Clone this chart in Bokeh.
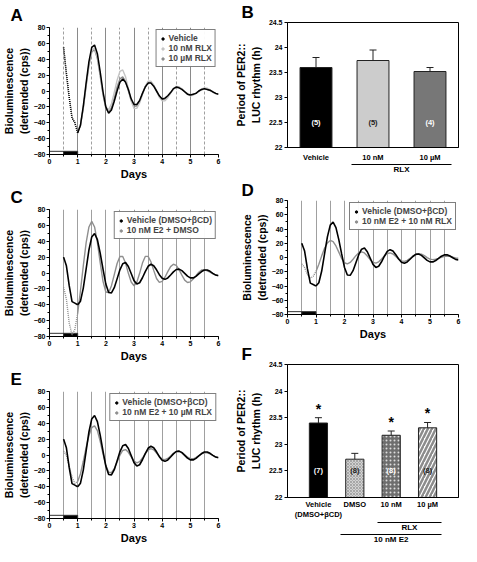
from bokeh.plotting import figure
from bokeh.layouts import row, column
from bokeh.models import (Range1d, SingleIntervalTicker, FixedTicker, Grid,
                          Legend, LegendItem, Whisker, TeeHead, ColumnDataSource,
                          NumeralTickFormatter, LinearAxis)
from bokeh.core.properties import value
from bokeh.embed import file_html
from bokeh.resources import INLINE

FONT = "Liberation Sans"
NAN = float("nan")

# ---------------- data ----------------
days = [0.5, 0.6, 0.7, 0.8, 0.9, 1.0,
        1.1, 1.2, 1.3, 1.4, 1.5, 1.6, 1.7, 1.8, 1.9, 2.0,
        2.1, 2.2, 2.3, 2.4, 2.5, 2.6, 2.7, 2.8, 2.9, 3.0,
        3.1, 3.2, 3.3, 3.4, 3.5, 3.6, 3.7, 3.8, 3.9, 4.0,
        4.1, 4.2, 4.3, 4.4, 4.5, 4.6, 4.7, 4.8, 4.9, 5.0,
        5.1, 5.2, 5.3, 5.4, 5.5, 5.6, 5.7, 5.8, 5.9, 6.0]

# Panel A
a_vehicle = [55, 22, -8, -34, -40, -53,
             -43, -19, 10, 37, 55, 58, 47, 24, -1, -20,
             -28, -24, -13, 0, 11, 15, 11, 2, -10, -17,
             -17, -12, -3, 5, 10, 10, 6, 0, -6, -10,
             -9, -6, -2, 3, 5, 4, 2, -1, -4, -5,
             -4, -3, 0, 2, 3, 2, 1, -1, -3, -4]
a_rlx_10nM = [55, 22, -8, -34, -40, -52,
              -43, -21, 7, 34, 51, 54, 42.5, 20.5, -3.5, -20,
              -23.5, -16, -1.7, 13.7, 24.6, 26.5, 18, 3, -12.7, -22,
              -21.8, -15, -4.4, 5.8, 12.2, 12.4, 7.5, -0.4, -8, -12.5,
              -12.3, -8.4, -2.6, 2.9, 5.8, 5.4, 2.7, -1, -4.3, -6,
              -5.4, -3.1, 0, 2.7, 4, 3.5, 1.4, -1, -3.2, -4]
a_rlx_10uM = [55, 22, -8, -34, -40, -52,
              -43, -21.5, 6, 32, 49, 52.3, 40.8, 19, -4.6, -22,
              -26.8, -21, -8.7, 5, 15.3, 17.8, 12, 0.3, -12, -19.2,
              -19, -12.8, -3.5, 5.6, 11.3, 11.4, 7.1, 0.1, -6.6, -10.5,
              -10.4, -7.2, -2.2, 2.4, 4.8, 4.5, 2.2, -0.8, -3.6, -5,
              -4.5, -2.8, -0.5, 1.6, 2.5, 2.1, 0.6, -1.5, -3.3, -4]

# Panels C, D, E
vehicle_cd = [20, 9, -16, -36, -38, -40,
              -35.5, -19, 5, 29, 45.5, 49.8, 42, 25, 5, -14,
              -24.5, -25, -18.5, -7.4, 4, 11.7, 13.2, 8.1, -0.7, -9.6,
              -13.9, -12.3, -6, 1.8, 8.5, 11, 9.1, 4, -2.1, -6.7,
              -8, -6.2, -2.5, 1.4, 4.4, 4.9, 3, -0.4, -4, -6.2,
              -6.2, -4.3, -1.2, 1.8, 3.7, 3.8, 2.1, -0.4, -2.6, -3.5]
e2_dmso = [-18, -33, -63, -78, -71, -51,
           -22, 9, 38, 58, 65, 58, 38.6, 13, -10.5, -24,
           -24.8, -16, -2, 12, 20.8, 20.9, 12.5, -0.4, -11.4, -16,
           -11.6, -0.4, 12.5, 20.9, 21, 14.2, 3.3, -6.9, -11.8, -10.6,
           -5.3, 1.7, 8, 11, 9.6, 4.3, -2.7, -9, -12, -11.1,
           -7.7, -3.4, 1, 3.7, 3.9, 2.8, 1, -1, -2.4, -3]
e2_rlx_10nM = [-9, -14, -24, -29, -26.5, -19.5,
               -9.4, 2.3, 13, 20.4, 24, 22.3, 16.2, 7.5, -1.4, -7.4,
               -9, -6.9, -2.5, 2.6, 6.5, 8, 6.4, 2.1, -3, -6.9,
               -8, -6, -2.1, 2.3, 5.6, 6.4, 4.9, 1.6, -2, -4.8,
               -5.5, -4.1, -1.3, 2, 4.5, 5.5, 4.7, 2.6, -0.1, -2.2,
               -3, -2.5, -1.3, 0.3, 1.5, 2, 1.6, 0.5, -0.6, -1]
e2_rlx_10uM = [5, -0.4, -14, -28, -35.8, -33.4,
               -23.6, -7.9, 9.3, 24.6, 34.4, 36.8, 30.8, 17.2, 1.6, -13.4,
               -21.8, -22.3, -17.3, -8.9, -0.2, 5.7, 6.8, 3.4, -2.4, -7.8,
               -10, -8.3, -3.8, 1.8, 6.3, 8, 6.5, 2.5, -1.9, -5.3,
               -5.9, -4.3, -1.2, 2.1, 4.5, 4.9, 3.3, 0.3, -2.8, -4.7,
               -4.8, -3.4, -1, 1.4, 2.8, 2.8, 1.5, -0.5, -2.3, -3]

# light / dark bar
lightdark_start = [0.0, 0.5]
lightdark_end = [0.5, 1.0]
lightdark_fill = ["white", "black"]
lightdark_bottom = -80
lightdark_top = -76

half_day_lines = [0.5, 1.0, 1.5, 2.0, 2.5, 3.0, 3.5, 4.0, 4.5, 5.0, 5.5]
whole_day_lines = [1, 2, 3, 4, 5]
mid_day_lines = [0.5, 1.5, 2.5, 3.5, 4.5, 5.5]

# Panel B
b_categories = ["Vehicle", "10 nM", "10 µM"]
b_sublabels = ["", "", ""]
b_period = [23.60, 23.74, 23.52]
b_sem = [0.20, 0.21, 0.08]
b_n = ["(5)", "(5)", "(4)"]
b_significant = [False, False, False]
b_groups = [("RLX", ["10 nM", "10 µM"])]

# Panel F
f_categories = ["Vehicle", "DMSO", "10 nM", "10 µM"]
f_sublabels = ["(DMSO+βCD)", "", "", ""]
f_period = [23.40, 22.72, 23.17, 23.31]
f_sem = [0.10, 0.11, 0.08, 0.10]
f_n = ["(7)", "(8)", "(8)", "(8)"]
f_significant = [True, False, True, True]
f_groups = [("RLX", ["10 nM", "10 µM"]), ("10 nM E2", ["DMSO", "10 nM", "10 µM"])]

period_ticks = [22, 22.5, 23, 23.5, 24, 24.5]

# ---------------- styles ----------------
GRAY_LIGHT = "#c4c4c4"
GRAY_MID = "#8c8c8c"
GRAY_LINE = "#8f8f8f"


def style_axis(ax, label_size):
    ax.axis_line_color = "black"
    ax.major_tick_line_color = "black"
    ax.minor_tick_line_color = "black"
    ax.major_tick_in = 0
    ax.major_tick_out = 3
    ax.minor_tick_in = 0
    ax.minor_tick_out = 2
    ax.major_label_text_font = FONT
    ax.major_label_text_font_style = "bold"
    ax.major_label_text_font_size = "7px"
    ax.major_label_text_color = "black"
    ax.major_label_standoff = 1
    ax.axis_label_text_font = FONT
    ax.axis_label_text_font_style = "bold"
    ax.axis_label_text_font_size = label_size
    ax.axis_label_text_color = "black"
    ax.axis_label_standoff = 1


def set_letter(p, letter, offset, standoff):
    p.title.text = letter
    p.title.align = "left"
    p.title.offset = offset
    p.title.standoff = standoff
    p.title.text_font = FONT
    p.title.text_font_style = "bold"
    p.title.text_font_size = "17px"
    p.title.text_color = "black"


def legend_for(p, entries):
    items = []
    for label, color in entries:
        r = p.scatter(x=[NAN], y=[NAN], size=4, fill_color=color, line_color=color)
        items.append(LegendItem(label=label, renderers=[r]))
    leg = Legend(items=items, location="top_right")
    leg.border_line_color = "black"
    leg.border_line_width = 1
    leg.label_text_font = FONT
    leg.label_text_font_style = "bold"
    leg.label_text_font_size = "8.5px"
    leg.label_height = 9
    leg.glyph_height = 9
    leg.glyph_width = 6
    leg.label_standoff = 3
    leg.spacing = 0
    leg.padding = 3
    leg.margin = 2
    p.add_layout(leg)


def trace_panel(letter, w, h, bl, br, bt, bb, letter_off, series, legend_entries, dashed_half):
    p = figure(width=w, height=h, x_range=Range1d(0, 6), y_range=Range1d(-80, 80),
               output_backend="svg", toolbar_location=None,
               min_border_left=bl, min_border_right=br, min_border_top=bt, min_border_bottom=bb)
    set_letter(p, letter, letter_off[0], letter_off[1])
    p.outline_line_color = None
    p.xaxis.ticker = SingleIntervalTicker(interval=1, num_minor_ticks=2)
    p.yaxis.ticker = SingleIntervalTicker(interval=20, num_minor_ticks=2)
    p.xaxis.axis_label = "Days"
    p.yaxis.axis_label = "Bioluminescence\n(detrended (cps))"
    style_axis(p.xaxis[0], "11px")
    style_axis(p.yaxis[0], "10.5px")
    p.ygrid.grid_line_color = None
    if dashed_half:
        p.xgrid.ticker = FixedTicker(ticks=whole_day_lines)
        p.xgrid.grid_line_color = "#8a8a8a"
        g = Grid(dimension=0, ticker=FixedTicker(ticks=mid_day_lines),
                 grid_line_color="#a0a0a0", grid_line_dash="3 2")
        p.center.append(g)
    else:
        p.xgrid.ticker = FixedTicker(ticks=half_day_lines)
        p.xgrid.grid_line_color = "#a0a0a0"

    p.quad(left=lightdark_start, right=lightdark_end, bottom=lightdark_bottom,
           top=lightdark_top, fill_color=lightdark_fill, line_color="#333333", line_width=1)

    for vals, color, lw, dotted in series:
        p.line(days[:6], vals[:6], line_color=color, line_width=lw,
               line_dash="1 1" if dotted else "solid")
        p.line(days[5:], vals[5:], line_color=color, line_width=lw)

    legend_for(p, legend_entries)
    return p


def flat_axis(ax):
    ax.major_tick_in = 0
    ax.major_tick_out = 0
    ax.minor_tick_in = 0
    ax.minor_tick_out = 0
    ax.major_tick_line_color = None
    ax.minor_tick_line_color = None
    ax.axis_label = None
    ax.axis_label_standoff = 0
    ax.axis_label_text_font_size = "0px"


def bar_panel(letter, w, h, bl, br, bt, bb, letter_off, cats, sublabels, vals, errs, ns, sig,
              fills, hatches, hatch_colors, hatch_scales, hatch_weights, n_colors,
              bar_width, pad, groups, tick_standoff):
    n = len(cats)
    xs = [i + 0.5 for i in range(n)]          # slot centres of the categories
    pos = dict(zip(cats, xs))
    upper = [v + e for v, e in zip(vals, errs)]
    src = ColumnDataSource(dict(x=xs, val=vals, upper=upper, n=ns, fill=fills,
                                hatch=hatches, hcolor=hatch_colors, hscale=hatch_scales,
                                hweight=hatch_weights, ncolor=n_colors))
    p = figure(width=w, height=h, x_range=Range1d(-pad, n + pad),
               y_range=Range1d(22, 24.5), output_backend="svg", toolbar_location=None,
               min_border_left=bl, min_border_right=br, min_border_top=bt, min_border_bottom=bb)
    set_letter(p, letter, letter_off[0], letter_off[1])

    p.outline_line_color = "black"
    p.outline_line_width = 1
    p.xgrid.grid_line_color = None
    p.ygrid.grid_line_color = None
    p.yaxis.ticker = FixedTicker(ticks=period_ticks)
    p.yaxis.formatter = NumeralTickFormatter(format="0.[0]")
    p.yaxis.axis_label = "Period of PER2::\nLUC rhythm (h)"
    style_axis(p.xaxis[0], "10px")
    style_axis(p.yaxis[0], "10.5px")
    p.xaxis.ticker = FixedTicker(ticks=xs)
    p.xaxis.major_label_overrides = {x: (c + "\n" + s if s else c)
                                     for x, c, s in zip(xs, cats, sublabels)}
    flat_axis(p.xaxis[0])
    p.xaxis.major_label_standoff = tick_standoff
    p.xaxis.major_label_text_font_size = "7.5px"
    p.yaxis.major_label_standoff = 2
    p.yaxis.axis_label_standoff = 4
    p.yaxis.minor_tick_line_color = None
    p.yaxis.minor_tick_out = 0

    p.vbar(x="x", top="val", bottom=22, width=bar_width, source=src, fill_color="fill",
           line_color="#222222", line_width=1, hatch_pattern="hatch", hatch_color="hcolor",
           hatch_scale="hscale", hatch_weight="hweight")
    p.add_layout(Whisker(base="x", lower="val", upper="upper", source=src,
                         dimension="height", line_color="#222222", line_width=1,
                         upper_head=TeeHead(size=7, line_color="#222222", line_width=1),
                         lower_head=None, level="overlay"))
    p.text(x="x", y=22.5, text="n", text_color="ncolor", source=src,
           text_font=value(FONT), text_font_style="bold", text_font_size="7.5px",
           text_align="center", text_baseline="middle")
    star_src = ColumnDataSource(dict(
        x=[x for x, s in zip(xs, sig) if s],
        y=[u + 0.02 for u, s in zip(upper, sig) if s],
        star=["*" for s in sig if s]))
    p.text(x="x", y="y", text="star", source=star_src, text_font=value(FONT),
           text_font_style="bold", text_font_size="14px", text_align="center",
           text_baseline="bottom", text_color="black")

    # group brackets: extra axes whose line spans the grouped categories
    for label, members in groups:
        mx = [pos[m] for m in members]
        xa = min(mx) - 0.38
        xb = max(mx) + 0.38
        mid = round((xa + xb) / 2, 6)
        ax = LinearAxis(bounds=(xa, xb), ticker=FixedTicker(ticks=[mid]),
                        major_label_overrides={mid: label})
        flat_axis(ax)
        ax.axis_line_color = "black"
        ax.axis_line_width = 1
        ax.major_label_standoff = 0
        ax.major_label_text_font = FONT
        ax.major_label_text_font_style = "bold"
        ax.major_label_text_font_size = "8px"
        ax.major_label_text_color = "black"
        p.add_layout(ax, "below")
    return p


# ---------------- panels ----------------
pA = trace_panel("A", 232, 182, 40, 14, 24, 26, (-39, 6),
                 [(a_rlx_10uM, GRAY_MID, 1.4, True),
                  (a_rlx_10nM, GRAY_LIGHT, 1.4, True),
                  (a_vehicle, "black", 1.5, True)],
                 [("Vehicle", "black"), ("10 nM RLX", GRAY_LIGHT), ("10 µM RLX", GRAY_MID)],
                 True)

pC = trace_panel("C", 232, 182, 40, 14, 24, 26, (-39, 6),
                 [(e2_dmso, GRAY_LINE, 1.4, True),
                  (vehicle_cd, "black", 1.6, False)],
                 [("Vehicle (DMSO+βCD)", "black"), ("10 nM E2 + DMSO", GRAY_LINE)],
                 False)

pE = trace_panel("E", 232, 182, 40, 14, 24, 26, (-39, 6),
                 [(e2_rlx_10uM, GRAY_LINE, 1.4, True),
                  (vehicle_cd, "black", 1.6, False)],
                 [("Vehicle (DMSO+βCD)", "black"), ("10 nM E2 + 10 µM RLX", GRAY_LINE)],
                 False)

pB = bar_panel("B", 229, 176, 49, 2, 22, 28, (-46, 1),
               b_categories, b_sublabels, b_period, b_sem, b_n, b_significant,
               ["black", "#cccccc", "#777777"], [" ", " ", " "],
               ["black", "black", "black"], [1, 1, 1], [1, 1, 1],
               ["white", "#222222", "white"],
               0.56, 0.0, b_groups, 5)

pD = trace_panel("D", 229, 166, 49, 3, 24, 26, (-46, 1),
                 [(e2_rlx_10nM, GRAY_LINE, 1.4, True),
                  (vehicle_cd, "black", 1.6, False)],
                 [("Vehicle (DMSO+βCD)", "black"), ("10 nM E2 + 10 nM RLX", GRAY_LINE)],
                 False)

pF = bar_panel("F", 229, 204, 49, 2, 22, 46, (-46, 1),
               f_categories, f_sublabels, f_period, f_sem, f_n, f_significant,
               ["black", "#d2d2d2", "#6e6e6e", "white"], [" ", "x", ".", "/"],
               ["black", "#8a8a8a", "#dddddd", "#8c8c8c"], [1, 3, 4, 8], [1, 0.6, 1.2, 2.5],
               ["white", "#222222", "white", "#222222"],
               0.5, 0.35, f_groups, 2)

layout = row(column(pA, pC, pE), column(pB, pD, pF))

open("out.html", "w").write(file_html(layout, INLINE))
